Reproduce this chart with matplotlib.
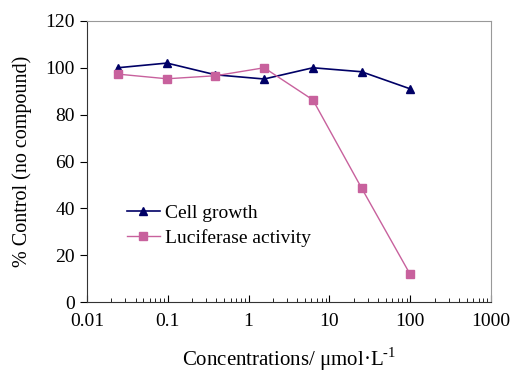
import matplotlib.pyplot as plt
from matplotlib.ticker import LogLocator, NullFormatter

plt.rcParams['font.family'] = ['Liberation Serif', 'DejaVu Serif']
plt.rcParams['mathtext.fontset'] = 'custom'
plt.rcParams['mathtext.rm'] = 'Liberation Serif'

# 数据
conc = [0.024, 0.098, 0.39, 1.56, 6.25, 25, 100]
cell_growth = [100, 102, 97, 95.2, 100, 98.3, 91]
luciferase = [97.3, 95.3, 96.6, 100, 86.3, 48.7, 11.8]

fig = plt.figure(figsize=(5.11, 3.73), dpi=100)
ax = fig.add_axes([0.170, 0.190, 0.791, 0.754])

ax.plot(conc, cell_growth, '-', color='#000066', linewidth=1.2,
        marker='^', markersize=6, label='Cell growth')
ax.plot(conc, luciferase, '-', color='#C8619D', linewidth=1.0,
        marker='s', markersize=6, label='Luciferase activity')

ax.set_xscale('log')
ax.set_xlim(0.01, 1000)
ax.set_ylim(0, 120)
ax.set_yticks(range(0, 121, 20))
ax.set_xticks([0.01, 0.1, 1, 10, 100, 1000])
ax.set_xticklabels(['0.01', '0.1', '1', '10', '100', '1000'])
ax.xaxis.set_minor_locator(LogLocator(base=10, subs=range(2, 10)))
ax.xaxis.set_minor_formatter(NullFormatter())

ax.tick_params(axis='x', which='major', direction='in', length=5, labelsize=14, pad=8)
ax.tick_params(axis='x', which='minor', direction='in', length=3)
ax.tick_params(axis='y', direction='out', length=5, labelsize=14)

for s in ['top', 'right']:
    ax.spines[s].set_color('#999999')
    ax.spines[s].set_linewidth(0.8)
for s in ['left', 'bottom']:
    ax.spines[s].set_color('#333333')

ax.set_xlabel(r'Concentrations/ μmol·L$^{\text{-1}}$', fontsize=15, labelpad=11)
ax.set_ylabel('% Control (no compound)', fontsize=14.5, labelpad=10)

ax.legend(loc='upper left', bbox_to_anchor=(0.055, 0.41), frameon=False,
          fontsize=14, handlelength=1.7, handletextpad=0.3, labelspacing=0.35)

plt.savefig('out.png', dpi=100)
plt.close()
